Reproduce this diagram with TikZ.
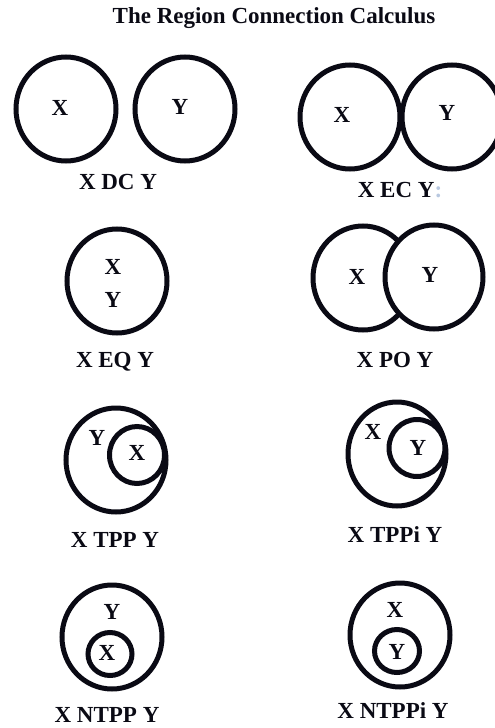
\documentclass[tikz,border=0pt]{standalone}
\usepackage{fontspec}
\setmainfont{Liberation Serif}
\usepackage{xcolor}
\usetikzlibrary{shapes.geometric}
\definecolor{inkdark}{HTML}{0A0A14}
\definecolor{faintblue}{HTML}{B8C8E0}
\begin{document}
\begin{tikzpicture}[x=1pt,y=-1pt,
      region/.style={ellipse,draw=inkdark,line width=5pt,fill=white,
                     inner sep=0pt,outer sep=0pt},
      big/.style={region,minimum width=100pt,minimum height=104pt},
      small/.style={region,minimum width=55pt,minimum height=57pt},
      tiny/.style={region,minimum width=44pt,minimum height=43pt},
      letter/.style={inner sep=0pt,font=\fontsize{23}{23}\selectfont\bfseries,text=inkdark},
      caption/.style={inner sep=0pt,font=\fontsize{23}{23}\selectfont\bfseries,text=inkdark}]
    \useasboundingbox (0,0) rectangle (495,728);
    %% ── Title ────────────────────────────────────────────────
    \node[inner sep=0pt,font=\fontsize{23}{23}\selectfont\bfseries,text=inkdark]
      (title) at (274,18) {The Region Connection Calculus};
    %% ── DC and EC ────────────────────────────────────────────
    \node[big] (dcx) at (66,109) {};
    \node[big] (dcy) at (185,109) {};
    \node[letter] (dcxl) at (60,108) {X};
    \node[letter] (dcyl) at (180,107) {Y};
    \node[caption] (dccap) at (118,182) {X DC Y};
    \node[big] (ecx) at (350,117) {};
    \node[big] (ecy) at (452,117) {};
    \node[letter] (ecxl) at (342,115) {X};
    \node[letter] (ecyl) at (447,113) {Y};
    \node[caption] (eccap) at (400,190) {X EC Y\textcolor{faintblue}{:}};
    %% ── EQ and PO ────────────────────────────────────────────
    \node[big] (eq) at (117,281) {};
    \node[letter] (eqxl) at (113,267) {X};
    \node[letter] (eqyl) at (113,300) {Y};
    \node[caption] (eqcap) at (115,362) {X EQ Y};
    \node[big] (pox) at (363,278) {};
    \node[big,minimum width=98pt] (poy) at (434,277) {};
    \node[letter] (poxl) at (357,277) {X};
    \node[letter] (poyl) at (430,275) {Y};
    \node[caption] (pocap) at (395,360) {X PO Y};
    %% ── TPP and TPPi ─────────────────────────────────────────
    \node[big] (tppy) at (116,460) {};
    \node[small] (tppx) at (137,455) {};
    \node[letter] (tppyl) at (97,438) {Y};
    \node[letter] (tppxl) at (137,453) {X};
    \node[caption] (tppcap) at (115,540) {X TPP Y};
    \node[big,minimum width=98pt] (tppix) at (397,454) {};
    \node[small,minimum width=56pt] (tppiy) at (417,448) {};
    \node[letter] (tppixl) at (373,432) {X};
    \node[letter] (tppiyl) at (418,448) {Y};
    \node[caption] (tppicap) at (395,535) {X TPPi Y};
    %% ── NTPP and NTPPi ───────────────────────────────────────
    \node[big] (ntppy) at (112,637) {};
    \node[tiny] (ntppx) at (110,654) {};
    \node[letter] (ntppyl) at (112,612) {Y};
    \node[letter] (ntppxl) at (107,653) {X};
    \node[caption] (ntppcap) at (107,715) {X NTPP Y};
    \node[big] (ntppix) at (400,635) {};
    \node[tiny,minimum width=45pt] (ntppiy) at (397,651) {};
    \node[letter] (ntppixl) at (395,610) {X};
    \node[letter] (ntppiyl) at (397,652) {Y};
    \node[caption] (ntppicap) at (393,711) {X NTPPi Y};
  \end{tikzpicture}
\end{document}
